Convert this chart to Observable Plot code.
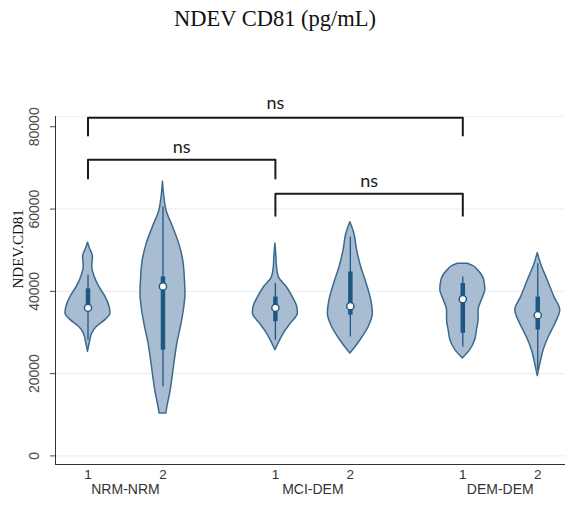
<!DOCTYPE html>
<html>
<head>
<meta charset="utf-8">
<script src="https://cdn.jsdelivr.net/npm/d3@7"></script>
<script src="https://cdn.jsdelivr.net/npm/@observablehq/plot@0.6"></script>
<style>
  html, body { margin: 0; padding: 0; background: #fff; }
  #title { box-sizing: border-box; width: 566px; height: 40px; padding-top: 8px; padding-right: 16px;
           text-align: center; font-family: "Liberation Serif", "DejaVu Serif", serif; font-size: 22.5px; line-height: 22px; color: #111; }
  #chart svg { display: block; }
</style>
</head>
<body>
<div id="title">NDEV CD81 (pg/mL)</div>
<div id="chart"></div>
<script>
// ---- data ----
const groupLabels = ["NRM-NRM", "MCI-DEM", "DEM-DEM"];
const subLabels = ["1", "2", "1", "2", "1", "2"];
const yTicks = [0, 20000, 40000, 60000, 80000];

// violin outlines: value levels and relative half-width (density, 1 = widest)
const v1Values = [51800, 50500, 48400, 45900, 43500, 41000, 38700, 36200, 34600, 33000, 31400, 29800, 27700, 25300];
const v1Dens   = [0, 0.08, 0.22, 0.19, 0.30, 0.51, 0.77, 0.96, 1, 0.77, 0.40, 0.19, 0.09, 0];
const v2Values = [66700, 63000, 59600, 55600, 51600, 47500, 43500, 39400, 35400, 31400, 27300, 23300, 19200, 15200, 12000, 10300];
const v2Dens   = [0, 0.06, 0.16, 0.45, 0.72, 0.90, 0.97, 1, 0.93, 0.80, 0.64, 0.53, 0.43, 0.32, 0.20, 0.15];
const v3Values = [51600, 48000, 45900, 43500, 41000, 38600, 36200, 34600, 32200, 29800, 27300, 25700];
const v3Dens   = [0, 0.05, 0.07, 0.15, 0.51, 0.77, 0.97, 1, 0.69, 0.38, 0.14, 0];
const v4Values = [56800, 54000, 50000, 45900, 41900, 37800, 34600, 31400, 28100, 26100, 24900];
const v4Dens   = [0, 0.18, 0.30, 0.48, 0.72, 0.93, 1, 0.82, 0.45, 0.18, 0];
const v5Values = [46700, 46200, 45100, 42700, 40300, 37900, 35400, 33000, 30600, 28100, 25700, 23700];
const v5Dens   = [0.22, 0.45, 0.68, 0.95, 1, 0.85, 0.70, 0.70, 0.63, 0.55, 0.33, 0];
const v6Values = [49300, 46700, 42700, 38600, 35400, 32200, 28900, 25700, 22500, 19400];
const v6Dens   = [0, 0.14, 0.44, 0.74, 1, 0.79, 0.49, 0.26, 0.12, 0];

// box plot statistics per violin
const whiskerLow  = [28100, 16800, 28100, 28900, 26500, 20900];
const q1          = [35500, 25700, 32600, 34200, 29800, 30600];
const median      = [36000, 41200, 36000, 36400, 38100, 34200];
const q3          = [40600, 43500, 38600, 44700, 41900, 38600];
const whiskerHigh = [43900, 60500, 41900, 53200, 43500, 46700];

// significance brackets (violin indices) and their levels
const bracketFrom  = [0, 0, 2];
const bracketTo    = [4, 2, 4];
const bracketTop   = [82200, 72000, 63700];
const bracketFoot  = [77900, 67400, 58400];
const bracketText  = ["ns", "ns", "ns"];
const bracketTextY = [85700, 75000, 66700];

// ---- build tables ----
const violinValues = [v1Values, v2Values, v3Values, v4Values, v5Values, v6Values];
const violinDens = [v1Dens, v2Dens, v3Dens, v4Dens, v5Dens, v6Dens];
const pos = (i) => 1 + i + 0.5 * Math.floor(i / 2);
const HW = 0.3;

const violinRows = [];
violinValues.forEach((vals, i) => {
  vals.forEach((v, j) => {
    const d = violinDens[i][j];
    violinRows.push({id: i, y: v, x1: pos(i) - d * HW, x2: pos(i) + d * HW});
  });
});
const boxes = subLabels.map((s, i) => ({
  x: pos(i), lo: whiskerLow[i], q1: q1[i], med: median[i], q3: q3[i], hi: whiskerHigh[i], label: s
}));
const groups = groupLabels.map((g, k) => ({label: g, x: (pos(2 * k) + pos(2 * k + 1)) / 2}));

const bracketPts = [];
const bracketLabels = [];
bracketFrom.forEach((a, k) => {
  const b = bracketTo[k];
  bracketPts.push({k, x: pos(a), y: bracketFoot[k]});
  bracketPts.push({k, x: pos(a), y: bracketTop[k]});
  bracketPts.push({k, x: pos(b), y: bracketTop[k]});
  bracketPts.push({k, x: pos(b), y: bracketFoot[k]});
  bracketLabels.push({x: (pos(a) + pos(b)) / 2, y: bracketTextY[k], t: bracketText[k]});
});

const yMin = -2090, yMax = 82500;
const xMin = 0.5665, xMax = 7.37;
const boxColor = "#1f5783";

const chart = Plot.plot({
  width: 566,
  height: 465,
  marginTop: 76,
  marginBottom: 41,
  marginLeft: 55,
  marginRight: 1,
  x: {domain: [xMin, xMax], axis: null},
  y: {domain: [yMin, yMax], axis: null},
  style: {background: "#fff", overflow: "visible"},
  marks: [
    Plot.ruleY(yTicks.filter(t => t < 80000), {stroke: "#e6edf3", strokeWidth: 1}),
    Plot.ruleY([yMax], {stroke: "#eef2f5", strokeWidth: 1}),
    Plot.axisY({ticks: yTicks, tickSize: 5, tickRotate: -90, tickPadding: 12, tickFormat: d => String(d),
                label: null, fontSize: 14, fontFamily: "Liberation Sans, Arial, sans-serif", color: "#4a4a4a"}),
    Plot.ruleX([xMin], {y1: yMin, y2: yMax, stroke: "#333", strokeWidth: 1}),
    Plot.ruleY([yMin], {x1: xMin, x2: xMax, stroke: "#333", strokeWidth: 1.2}),
    Plot.text(["NDEV.CD81"], {frameAnchor: "left", dx: -37, dy: -2, rotate: -90, fontSize: 15,
               fontFamily: "Liberation Serif, serif", fill: "#111"}),
    Plot.areaX(violinRows, {y: "y", x1: "x1", x2: "x2", z: "id", fill: "#a8bdd2", stroke: "#3b6a8e",
                            strokeWidth: 1.5, curve: "monotone-y"}),
    Plot.ruleX(boxes, {x: "x", y1: "lo", y2: "hi", stroke: boxColor, strokeWidth: 1.3}),
    Plot.ruleX(boxes, {x: "x", y1: "q1", y2: "q3", stroke: boxColor, strokeWidth: 4.5}),
    Plot.dot(boxes, {x: "x", y: "med", r: 3.6, fill: "white", stroke: boxColor, strokeWidth: 1.4}),
    Plot.text(boxes, {x: "x", text: "label", frameAnchor: "bottom", dy: 14, fontSize: 13.5,
                      fontFamily: "Liberation Sans, Arial, sans-serif", fill: "#333"}),
    Plot.text(groups, {x: "x", text: "label", frameAnchor: "bottom", dy: 29.5, fontSize: 14,
                       fontFamily: "Liberation Sans, Arial, sans-serif", fill: "#333"}),
    Plot.line(bracketPts, {x: "x", y: "y", z: "k", stroke: "#1a1a1a", strokeWidth: 2, curve: "linear"}),
    Plot.text(bracketLabels, {x: "x", y: "y", text: "t", fontSize: 18, fontFamily: "Lato, sans-serif", fill: "#1a1a1a"})
  ]
});
document.getElementById("chart").appendChild(chart);
</script>
</body>
</html>
